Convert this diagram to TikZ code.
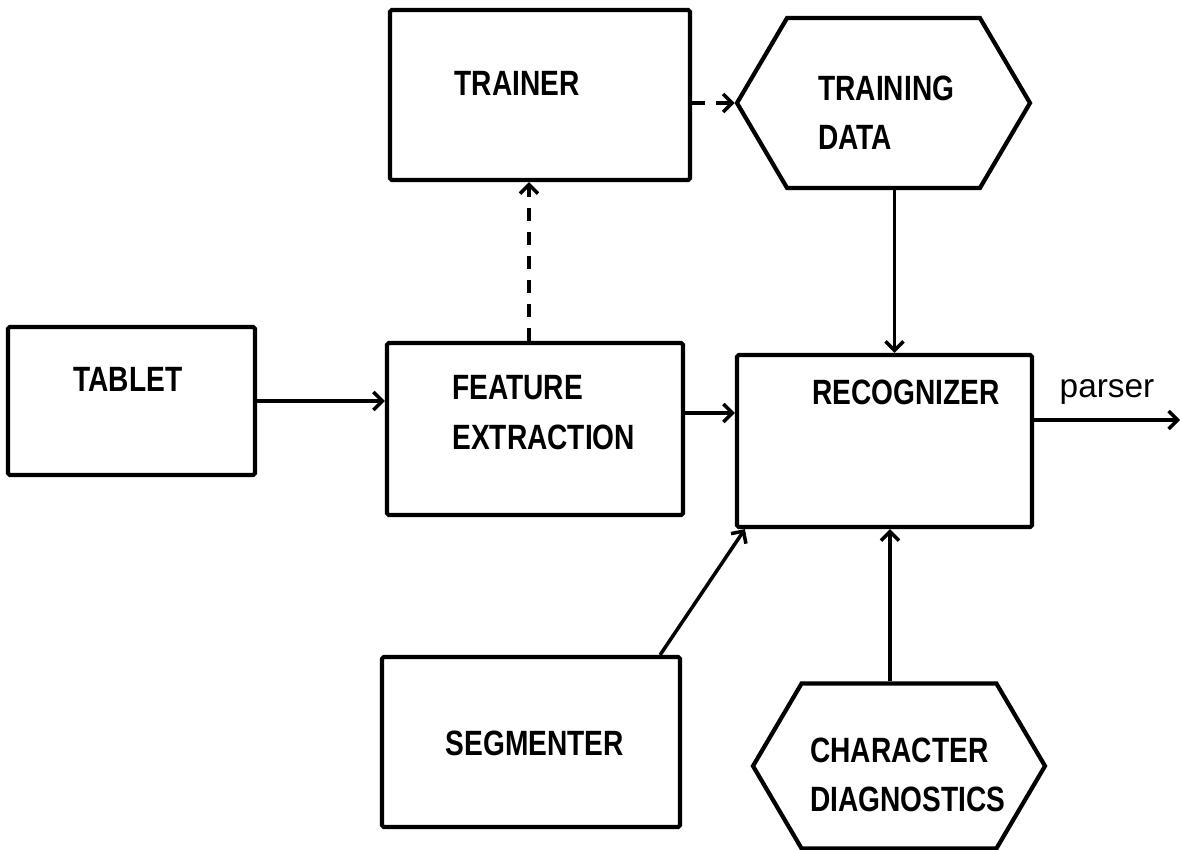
\documentclass[tikz,border=0pt]{standalone}
\usepackage{fontspec}
\setmainfont{Liberation Sans}
\newfontfamily\boxfont{Liberation Sans}[FakeStretch=0.8]
\usetikzlibrary{arrows.meta,shapes.symbols}

\begin{document}
\begin{tikzpicture}[
	box/.style={draw, line width=2.4pt, rounded corners=1pt},
	hexa/.style={draw, line width=2.4pt, shape=signal, signal to=west and east, signal pointer angle=119, inner sep=0pt},
	txt/.style={font=\boxfont\bfseries\fontsize{20}{28}\selectfont, align=left, inner sep=0pt},
	arr/.style={line width=2pt, -{Straight Barb[length=1.8mm,width=3.6mm,line width=2pt]}},
	dasharr/.style={arr, dash pattern=on 2.6mm off 2.2mm}
]
	\useasboundingbox (0,0) rectangle (23.6,-17);

	\node[box, minimum width=6cm, minimum height=3.4cm] (trainer) at (10.8,-1.9) {};
	\node[hexa, minimum width=5.86cm, minimum height=3.4cm] (training) at (17.67,-2.06) {};
	\node[box, minimum width=4.94cm, minimum height=2.96cm] (tablet) at (2.63,-8.02) {};
	\node[box, minimum width=5.92cm, minimum height=3.44cm] (feature) at (10.7,-8.58) {};
	\node[box, minimum width=5.9cm, minimum height=3.44cm] (recog) at (17.69,-8.82) {};
	\node[box, minimum width=5.96cm, minimum height=3.4cm] (segment) at (10.62,-14.84) {};
	\node[hexa, minimum width=5.84cm, minimum height=3.3cm] (diag) at (17.98,-15.32) {};

	\node[txt] (trainer-t) at (10.34,-1.66) {TRAINER};
	\node[txt, anchor=west] (training-t) at (16.36,-2.26) {TRAINING\\DATA};
	\node[txt] (tablet-t) at (2.56,-7.58) {TABLET};
	\node[txt, anchor=west] (feature-t) at (9.04,-8.25) {FEATURE\\EXTRACTION};
	\node[txt] (recog-t) at (18.12,-7.84) {RECOGNIZER};
	\node[txt] (segment-t) at (10.7,-14.86) {SEGMENTER};
	\node[txt, anchor=west] (diag-t) at (16.2,-15.5) {CHARACTER\\DIAGNOSTICS};

	\coordinate (out) at (23.6,-8.4);

	\draw[arr] (tablet.east) -- (feature.west |- tablet.east);
	\draw[arr] ([yshift=3.2mm]feature.east) -- ([yshift=3.2mm]feature.east -| recog.west);
	\draw[dasharr] ([xshift=-1.2mm]feature.north) -- ([xshift=-1.2mm]feature.north |- trainer.south);
	\draw[dasharr] (trainer.east |- training.west) -- (training.west);
	\draw[arr] ([xshift=2.2mm]training.south) -- ([xshift=2.2mm]training.south |- recog.north);
	\draw[arr] ([yshift=4.2mm]recog.east) -- node[above=1.5mm, font=\fontsize{19}{22}\selectfont]{parser} (out);
	\draw[arr] ([xshift=-4.4mm]segment.north east) -- ([xshift=2mm]recog.south west);
	\draw[arr] ([xshift=-1.8mm]diag.north) -- ([xshift=-1.8mm]diag.north |- recog.south);
\end{tikzpicture}
\end{document}
